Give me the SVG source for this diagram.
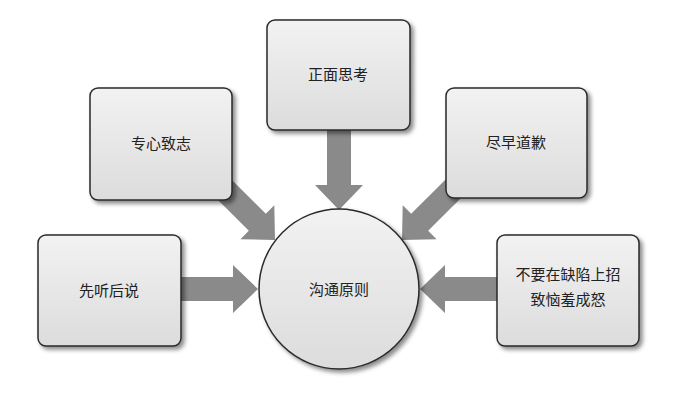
<svg xmlns="http://www.w3.org/2000/svg" width="700" height="408" viewBox="0 0 700 408">
<style>
.box{fill:url(#g);stroke:#2a2a2a;stroke-width:1.5;filter:url(#sh)}
.t{font-family:"Noto Sans CJK SC","Noto Sans",sans-serif;font-size:15px;fill:#222;text-anchor:middle}
.arr{fill:#8a8a8a}
</style>
<defs>
<linearGradient id="g" x1="0" y1="0" x2="0" y2="1"><stop offset="0" stop-color="#f2f2f2"/><stop offset="1" stop-color="#dcdcdc"/></linearGradient>
<filter id="sh" x="-10%" y="-10%" width="130%" height="130%"><feDropShadow dx="3" dy="3" stdDeviation="2" flood-color="#000" flood-opacity="0.45"/></filter>
<polygon id="a" points="-80,-12 -25,-12 -25,-24 0,0 -25,24 -25,12 -80,12"/>
</defs>
<rect width="700" height="408" fill="#fff"/>
<g id="connectors" class="arr">
<use href="#a" transform="translate(258,289)"/>
<use href="#a" transform="translate(420,289) rotate(180)"/>
<use href="#a" transform="translate(339,210) rotate(90)"/>
<use href="#a" transform="translate(275,240) rotate(45)"/>
<use href="#a" transform="translate(402,240) rotate(135)"/>
</g>
<g id="center"><circle cx="339" cy="289" r="80" class="box"/><text class="t" x="339" y="295">沟通原则</text></g>
<g id="n1"><rect class="box" x="90" y="88" width="142" height="112" rx="8"/><text class="t" x="161" y="149">专心致志</text></g>
<g id="n2"><rect class="box" x="267" y="20" width="143" height="110" rx="8"/><text class="t" x="338" y="80">正面思考</text></g>
<g id="n3"><rect class="box" x="446" y="88" width="141" height="110" rx="8"/><text class="t" x="516" y="148">尽早道歉</text></g>
<g id="n4"><rect class="box" x="38" y="235" width="143" height="111" rx="8"/><text class="t" x="109" y="296">先听后说</text></g>
<g id="n5"><rect class="box" x="497" y="235" width="142" height="111" rx="8"/><text class="t" x="568" y="280">不要在缺陷上招</text><text class="t" x="568" y="305">致恼羞成怒</text></g>
</svg>
